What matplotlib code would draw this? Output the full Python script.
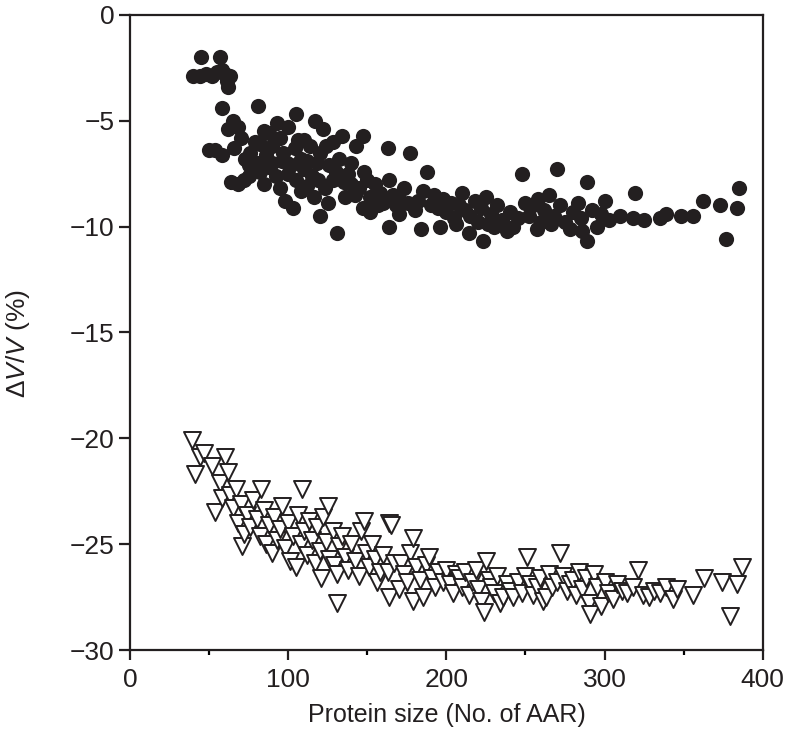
import matplotlib
matplotlib.use("Agg")
import matplotlib.pyplot as plt
from matplotlib.ticker import MultipleLocator

plt.rcParams['font.family'] = ['Liberation Sans', 'DejaVu Sans']
plt.rcParams['mathtext.fontset'] = 'custom'
plt.rcParams['mathtext.it'] = 'Liberation Sans:italic'
plt.rcParams['mathtext.rm'] = 'Liberation Sans'

# filled circles (upper series)
dot_x = [40, 45, 44, 48, 52, 57, 58, 60, 61, 62, 63, 55,
         58, 81, 54, 50, 58, 62, 65, 68, 70, 66, 64, 68, 72, 75, 78, 80, 76, 73,
         82, 85, 88, 90, 93, 95, 97, 99, 100, 102, 105, 104, 108, 110, 112, 115,
         118, 120, 122, 124, 126, 128, 130, 132, 134, 135, 138, 140, 142, 145,
         147, 148, 150, 152, 155, 158, 160, 163, 164, 166, 168, 170, 173, 177,
         176, 180, 182, 185, 188, 190, 92, 95, 98, 103, 88, 85, 105, 108, 112,
         116, 120, 125, 131, 128, 110, 114, 117, 100, 96, 106, 82, 86, 90, 119,
         123, 136, 140, 143, 147, 152, 157, 164, 170, 184, 75, 79,
         192, 195, 198, 200, 203, 205, 208, 210, 212, 215, 218, 220, 222, 223,
         225, 228, 230, 232, 235, 238, 240, 242, 248, 250, 252, 255, 258, 260,
         262, 265, 268, 270, 272, 275, 278, 280, 283, 285, 289, 289, 292, 295,
         298, 300, 303, 310, 318, 319, 325, 335, 339, 348, 356, 362, 373, 377,
         384, 385, 196, 206, 214, 226, 245, 257, 266, 286]
dot_y = [-2.9, -2.0, -2.9, -2.8, -2.9, -2.0, -2.6, -2.8, -3.1, -3.4, -2.9, -2.7,
         -4.4, -4.3, -6.4, -6.4, -6.6, -5.4, -5.0, -5.3, -5.8, -6.3, -7.9, -8.0,
         -7.8, -7.6, -7.2, -7.0, -6.5, -6.8,
         -6.1, -5.5, -5.6, -6.2, -5.1, -5.8, -6.5, -7.0, -7.5, -7.1, -4.7, -6.3,
         -6.8, -7.3, -6.9, -7.6, -7.0, -6.5, -5.4, -6.2, -7.1, -7.8, -7.4, -6.8,
         -5.7, -7.9, -7.5, -8.0, -8.5, -8.2, -5.7, -7.4, -7.8, -8.6, -8.0, -8.4,
         -8.9, -6.3, -7.8, -8.5, -9.0, -8.7, -8.2, -6.5, -8.9, -9.2, -8.8, -8.3,
         -7.4, -9.0, -7.6, -8.2, -8.8, -9.1, -7.2, -8.0, -7.8, -8.3, -8.1, -8.6,
         -9.5, -8.9, -10.3, -6.0, -5.9, -6.2, -5.0, -5.3, -6.9, -5.9, -7.4, -6.6,
         -7.0, -7.8, -8.2, -8.6, -7.0, -6.2, -9.1, -9.3, -9.0, -10.0, -9.4,
         -10.1, -7.1, -6.0,
         -8.5, -9.1, -8.7, -9.3, -8.9, -9.6, -9.0, -8.4, -9.2, -9.5, -8.8, -9.8,
         -9.1, -10.7, -8.6, -9.4, -10.0, -9.0, -9.7, -10.2, -9.3, -10.0, -7.5,
         -8.9, -9.5, -9.0, -8.7, -9.8, -9.2, -8.5, -9.5, -7.3, -9.0, -9.8, -10.1,
         -9.3, -8.9, -9.6, -7.9, -10.7, -9.2, -10.0, -9.4, -8.8, -9.7, -9.5, -9.6,
         -8.4, -9.7, -9.6, -9.4, -9.5, -9.5, -8.8, -9.0, -10.6, -9.1, -8.2,
         -10.0, -9.9, -10.3, -9.9, -9.6, -10.1, -9.9, -10.2]

# open triangles (lower series)
tri_x = [39, 41, 44, 47, 52, 57, 60, 62, 54, 58, 63, 65, 67, 68, 70, 71, 72, 74,
         76, 78, 80, 82, 83, 85, 86, 88, 90, 91, 93, 95, 96, 98, 100, 101, 103,
         105, 106, 108, 109, 110, 112, 113, 115, 117, 118, 120, 121, 122, 124,
         125, 126, 128, 129, 131, 131, 132, 134, 136, 138, 140, 142, 145, 146,
         148, 149, 151, 153, 155, 156, 158, 160, 163, 164, 164, 165, 167, 170,
         171, 173, 175, 177, 179, 179, 181, 183, 185, 187, 189, 191, 193, 195,
         198, 200, 202, 204, 206, 208, 210, 212, 214, 216, 219, 220, 222, 224,
         225, 227, 228, 230, 232, 234, 236, 238, 240, 242, 245, 248, 250, 251,
         253, 255, 257, 259, 261, 263, 265, 267, 270, 272, 274, 276, 278, 280,
         282, 284, 286, 288, 290, 291, 293, 295, 298, 300, 302, 305, 308, 311,
         314, 318, 321, 324, 328, 331, 335, 339, 343, 346, 356, 363, 374, 379,
         384, 387]
tri_y = [-20.1, -21.7, -20.9, -20.7, -21.3, -22.1, -20.9, -21.6, -23.5, -22.8,
         -22.7, -23.3, -22.4, -24.0, -23.1, -25.1, -24.5, -23.6, -24.2, -22.9,
         -23.8, -24.6, -22.4, -23.4, -25.0, -24.1, -25.4, -23.7, -24.8, -24.3,
         -23.2, -25.2, -24.0, -25.8, -24.6, -26.1, -23.6, -25.0, -22.4, -24.4,
         -25.5, -23.9, -24.8, -25.9, -24.2, -25.3, -26.6, -23.7, -24.9, -23.2,
         -25.7, -24.4, -26.0, -26.4, -27.8, -25.1, -24.6, -25.6, -26.2, -25.0,
         -25.8, -26.5, -24.4, -23.9, -25.4, -26.1, -25.0, -25.7, -26.8, -26.3,
         -25.5, -26.3, -27.5, -24.0, -24.1, -25.9, -27.1, -25.9, -26.4, -26.8,
         -25.4, -24.7, -27.7, -26.1, -26.7, -27.5, -26.0, -25.6, -26.6, -27.0,
         -26.3, -26.8, -26.2, -26.9, -27.3, -26.4, -26.6, -27.0, -26.3, -27.4,
         -26.8, -26.2, -27.1, -27.7, -28.2, -25.8, -26.7, -27.0, -27.3, -26.5,
         -27.8, -27.5, -26.9, -27.2, -27.5, -26.8, -27.3, -26.5, -25.6, -26.9,
         -27.4, -27.0, -26.6, -27.7, -27.5, -26.4, -27.0, -26.8, -25.4, -26.5,
         -27.2, -26.9, -26.7, -27.4, -26.3, -27.1, -26.6, -27.8, -28.3, -26.4,
         -27.0, -27.9, -26.8, -27.3, -27.6, -26.9, -27.2, -27.3, -27.0, -26.2,
         -27.4, -27.5, -27.2, -27.3, -27.0, -27.6, -27.1, -27.4, -26.6, -26.8,
         -28.4, -26.9, -26.1]

fig = plt.figure(figsize=(7.88, 7.45), dpi=100)
ax = fig.add_axes([0.165, 0.1275, 0.803, 0.8525])

ax.scatter(dot_x, dot_y, s=120, c='#231f20', marker='o', linewidths=0, zorder=3)
ax.scatter(tri_x, tri_y, s=150, facecolors='white', edgecolors='#231f20',
           marker='v', linewidths=1.4, zorder=2)

ax.set_xlim(0, 400)
ax.set_ylim(-30, 0)
ax.xaxis.set_major_locator(MultipleLocator(100))
ax.xaxis.set_minor_locator(MultipleLocator(50))
ax.set_yticks([0, -5, -10, -15, -20, -25, -30])
ax.set_yticklabels(['0', '\u22125', '\u221210', '\u221215', '\u221220', '\u221225', '\u221230'])

for sp in ax.spines.values():
    sp.set_linewidth(1.6)
    sp.set_color('#231f20')
ax.tick_params(axis='both', which='major', direction='out', width=1.6,
               labelsize=19, colors='#231f20')
ax.tick_params(axis='y', which='major', length=8, pad=3)
ax.tick_params(axis='x', which='major', length=7, pad=6)
ax.tick_params(axis='x', which='minor', direction='out', length=3.5, width=1.6)

ax.set_xlabel('Protein size (No. of AAR)', fontsize=18, labelpad=8, color='#231f20')
ax.set_ylabel(r'$\Delta$$\mathit{V}$/$\mathit{V}$ (%)', fontsize=19, color='#231f20')
ax.yaxis.set_label_coords(-0.155, 0.482)

fig.savefig('out.png', dpi=100)
